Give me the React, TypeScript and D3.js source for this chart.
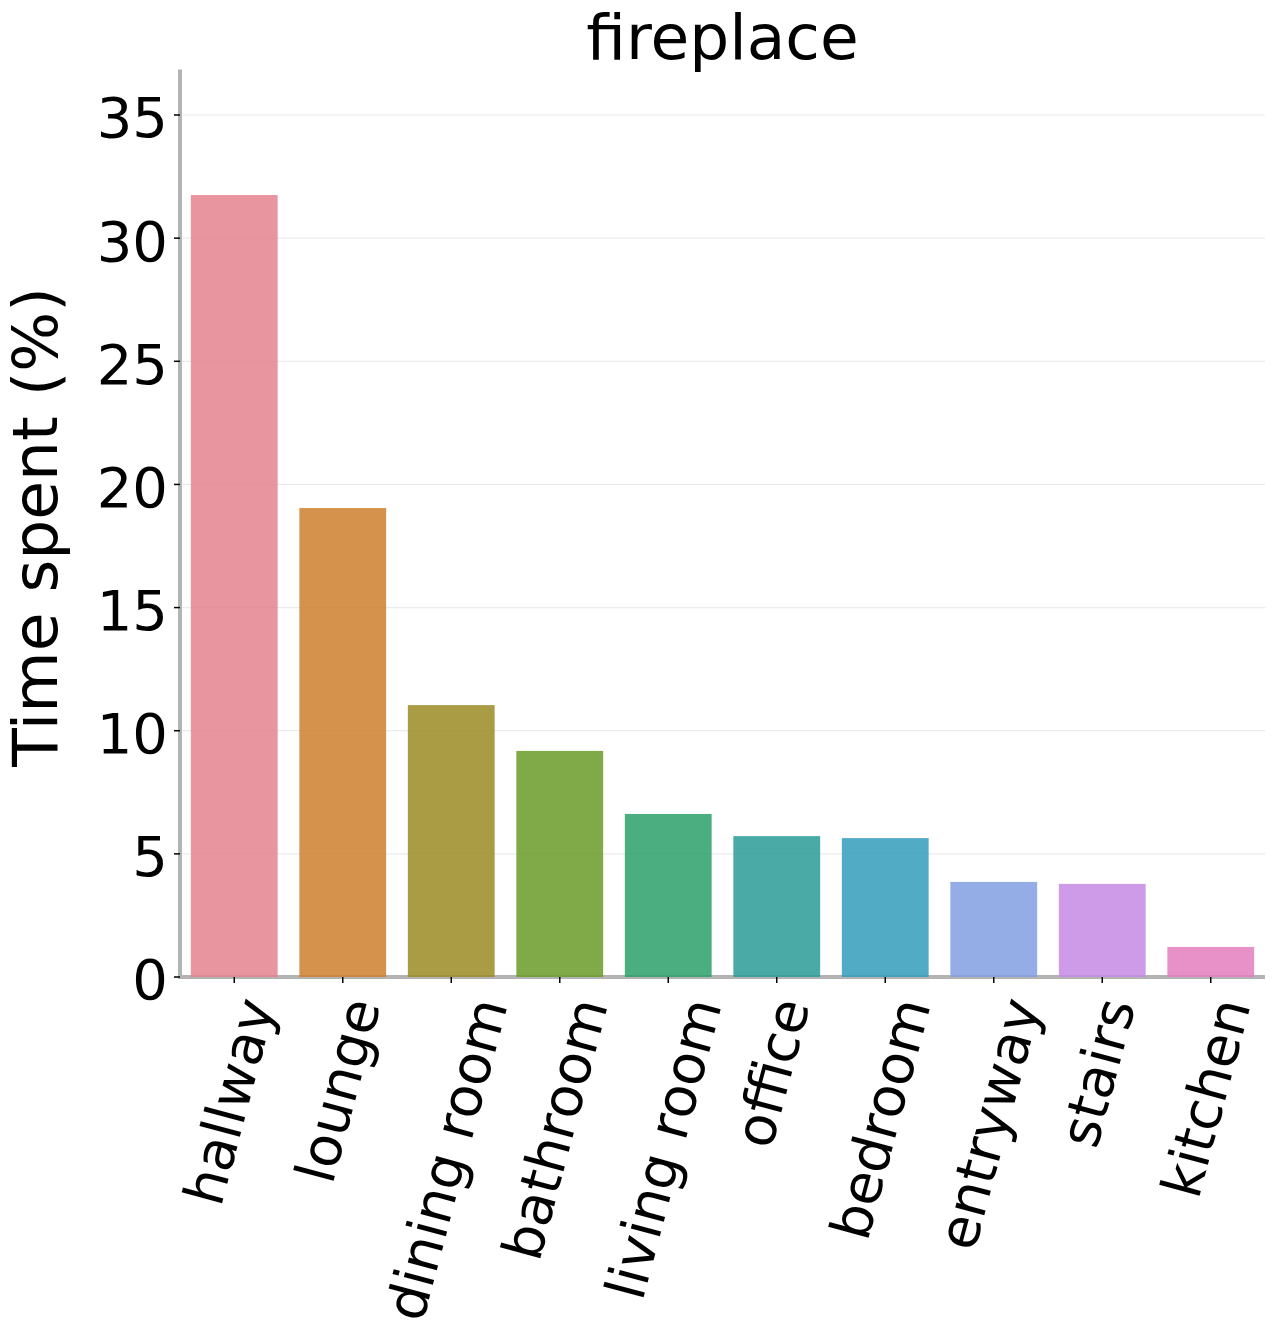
import React, { useEffect, useRef } from "react";
import * as d3 from "d3";

const title = "fireplace";
const yLabel = "Time spent (%)";
const categories = ["hallway", "lounge", "dining room", "bathroom", "living room", "office", "bedroom", "entryway", "stairs", "kitchen"];
const values = [31.75, 19.04, 11.04, 9.18, 6.62, 5.72, 5.64, 3.86, 3.78, 1.22];
const observedColors = ["#e9959f", "#d4924d", "#aa9c45", "#80aa47", "#4aae80", "#4aaaa5", "#52abc4", "#95ade6", "#cd9be8", "#e891c8"];
const yTicks = [0, 5, 10, 15, 20, 25, 30, 35];
const yMax = 36.85;

const W = 1275;
const H = 1333;
const ALPHA = 0.85;

function baseColor(hex: string): string {
  const c = d3.rgb(hex);
  const f = (v: number) => Math.max(0, Math.min(255, (v - 255 * (1 - ALPHA)) / ALPHA));
  return d3.rgb(f(c.r), f(c.g), f(c.b)).formatHex();
}

export default function App() {
  const ref = useRef<SVGSVGElement>(null);

  useEffect(() => {
    document.body.style.margin = "0";
    const svg = d3.select(ref.current!);
    svg.selectAll("*").remove();
    const font = "DejaVu Sans";
    const left = 180, right = 1265, bottom = 977;

    const y = d3.scaleLinear().domain([0, yMax]).range([bottom, bottom - yMax * ((977 - 115) / 35)]);
    const x = d3.scaleBand().domain(categories).range([left, right]).paddingInner(0.2).paddingOuter(0.1);

    // grid
    svg.append("g").selectAll("line").data(yTicks.slice(1)).join("line")
      .attr("x1", left).attr("x2", right)
      .attr("y1", (d) => y(d)).attr("y2", (d) => y(d))
      .attr("stroke", "#ebebeb").attr("stroke-width", 1.2);

    // spines
    svg.append("line").attr("x1", left).attr("x2", left).attr("y1", y(yMax)).attr("y2", bottom + 2)
      .attr("stroke", "#b3b3b3").attr("stroke-width", 4);
    svg.append("line").attr("x1", left - 2).attr("x2", right).attr("y1", bottom).attr("y2", bottom)
      .attr("stroke", "#b3b3b3").attr("stroke-width", 4);

    // bars
    svg.append("g").selectAll("rect").data(categories).join("rect")
      .attr("x", (d) => x(d)!)
      .attr("width", x.bandwidth())
      .attr("y", (d, i) => y(values[i]))
      .attr("height", (d, i) => bottom - y(values[i]))
      .attr("fill", (d, i) => baseColor(observedColors[i]))
      .attr("fill-opacity", ALPHA);

    // y ticks
    const yt = svg.append("g");
    yt.selectAll("line").data(yTicks).join("line")
      .attr("x1", left - 6).attr("x2", left)
      .attr("y1", (d) => y(d)).attr("y2", (d) => y(d))
      .attr("stroke", "#000").attr("stroke-width", 1.5);
    yt.selectAll("text").data(yTicks).join("text")
      .attr("x", 168).attr("y", (d) => y(d)).attr("dy", "0.4em")
      .attr("text-anchor", "end").attr("font-family", font).attr("font-size", 56)
      .attr("fill", "#000").text((d) => String(d));

    // x ticks
    const xt = svg.append("g");
    xt.selectAll("line").data(categories).join("line")
      .attr("x1", (d) => x(d)! + x.bandwidth() / 2).attr("x2", (d) => x(d)! + x.bandwidth() / 2)
      .attr("y1", bottom).attr("y2", bottom + 6)
      .attr("stroke", "#000").attr("stroke-width", 1.5);

    const fs = 55;
    const ang = 75;
    const rad = (ang * Math.PI) / 180;
    const top = 994;
    categories.forEach((c) => {
      const cx = x(c)! + x.bandwidth() / 2;
      const g = svg.append("g");
      const t = g.append("text").attr("font-family", font).attr("font-size", fs)
        .attr("text-anchor", "middle").attr("y", 0.26 * fs).attr("fill", "#000").text(c);
      const L = (t.node() as SVGTextElement).getComputedTextLength();
      const bh = L * Math.sin(rad) + fs * Math.cos(rad);
      g.attr("transform", `translate(${cx},${top + bh / 2}) rotate(${-ang})`);
    });

    // y label
    svg.append("text").attr("transform", `translate(57,527) rotate(-90)`)
      .attr("text-anchor", "middle").attr("font-family", font).attr("font-size", 63)
      .attr("fill", "#000").text(yLabel);

    // title
    svg.append("text").attr("x", (left + right) / 2).attr("y", 59)
      .attr("text-anchor", "middle").attr("font-family", font).attr("font-size", 63)
      .attr("fill", "#000").text(title);
  }, []);

  return <svg ref={ref} width={W} height={H} style={{ display: "block" }} />;
}
